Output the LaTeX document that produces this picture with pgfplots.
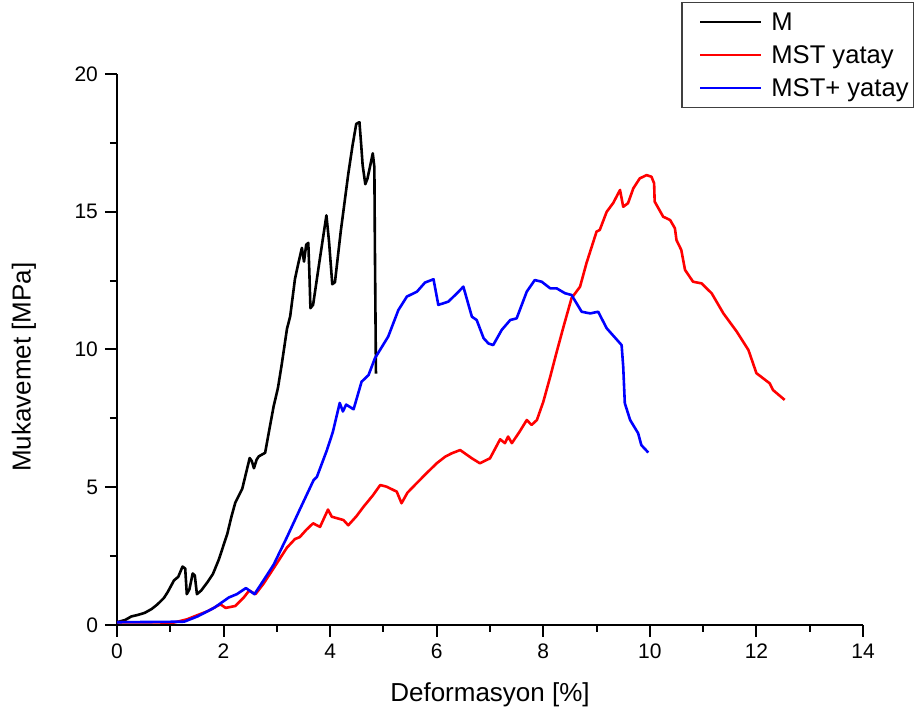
\documentclass[border=0pt]{standalone}
\usepackage{pgfplots}
\pgfplotsset{compat=1.18}
\usepackage{fontspec}
\setmainfont{Liberation Sans}
\definecolor{cred}{RGB}{255,0,0}
\definecolor{cblue}{RGB}{0,0,255}
\begin{document}
\begin{tikzpicture}
\useasboundingbox (-58.5pt,-45pt) rectangle (401.5pt,312.5pt);
\begin{axis}[
  at={(0,0)}, anchor=south west,
  scale only axis, width=373pt, height=275.5pt,
  xmin=0, xmax=14, ymin=0, ymax=20,
  axis lines*=left,
  axis line style={line width=1pt},
  xtick={0,2,...,14}, ytick={0,5,...,20},
  minor x tick num=1, minor y tick num=1,
  tick align=outside,
  major tick length=6pt, minor tick length=3.5pt,
  tick style={black, line width=1pt},
  /pgf/number format/assume math mode=true,
  ticklabel style={font=\fontsize{10.5pt}{12pt}\selectfont},
  xlabel={Deformasyon [\%]},
  ylabel={Mukavemet [MPa]},
  label style={font=\fontsize{13pt}{15pt}\selectfont},
  xlabel style={at={(axis description cs:0.5,-0.127)}, anchor=center},
  ylabel style={at={(axis description cs:-0.1247,0.468)}, anchor=center},
  legend style={at={(0.7565,1.1307)}, anchor=north west, draw=black!75, line width=0.6pt,
    inner xsep=2.5pt, inner ysep=3pt, row sep=3pt, column sep=4.5pt,
    font=\fontsize{12.8pt}{15pt}\selectfont,
    nodes={inner sep=0pt, text height=11pt, text depth=2.5pt}},
  legend cell align=left,
  legend image code/.code={\path (0pt,0pt); \draw[#1, line width=1.1pt] (6pt,0pt) -- (36.5pt,0pt);},
  every axis plot/.append style={line width=1.3pt, line join=round},
  clip=false,
]
\addplot[black] coordinates {
(0.00,0.10) (0.15,0.18) (0.27,0.31) (0.40,0.37) (0.52,0.44) (0.65,0.58) (0.76,0.75)
(0.88,0.98) (0.95,1.19) (1.07,1.62) (1.15,1.75) (1.23,2.12) (1.28,2.05) (1.31,1.12)
(1.36,1.30) (1.42,1.87) (1.46,1.80) (1.50,1.12) (1.58,1.25) (1.70,1.56) (1.80,1.85)
(1.91,2.37) (2.07,3.31) (2.15,3.95) (2.22,4.44) (2.35,4.94) (2.49,6.06) (2.53,5.95)
(2.57,5.69) (2.62,6.00) (2.66,6.12) (2.78,6.25) (2.85,7.00) (2.94,7.94) (3.02,8.60)
(3.09,9.44) (3.19,10.75) (3.25,11.20) (3.34,12.56) (3.40,13.10) (3.47,13.69) (3.51,13.19)
(3.55,13.80) (3.59,13.87) (3.61,12.80) (3.63,11.50) (3.68,11.62) (3.80,13.20) (3.93,14.87)
(3.98,13.90) (4.04,12.37) (4.09,12.44) (4.20,14.30) (4.34,16.37) (4.42,17.40) (4.49,18.19)
(4.55,18.25) (4.58,17.50) (4.61,16.69) (4.66,16.00) (4.70,16.20) (4.74,16.56) (4.80,17.12)
(4.83,16.62) (4.84,13.69) (4.86,9.12)
};
\addlegendentry{M}
\addplot[cred] coordinates {
(0.00,0.10) (1.07,0.09) (1.32,0.21) (1.50,0.35) (1.70,0.50) (1.94,0.75) (2.04,0.62)
(2.22,0.69) (2.38,1.00) (2.48,1.25) (2.60,1.12) (2.75,1.50) (2.94,2.06) (3.19,2.81)
(3.34,3.12) (3.43,3.19) (3.55,3.45) (3.68,3.69) (3.81,3.56) (3.96,4.19) (4.03,3.93)
(4.25,3.81) (4.34,3.62) (4.49,3.94) (4.63,4.30) (4.80,4.70) (4.94,5.08) (5.06,5.02)
(5.25,4.84) (5.34,4.42) (5.45,4.80) (5.59,5.08) (5.81,5.51) (6.00,5.87) (6.16,6.11)
(6.28,6.23) (6.44,6.35) (6.55,6.20) (6.66,6.05) (6.81,5.87) (7.00,6.05) (7.19,6.74)
(7.28,6.60) (7.34,6.84) (7.41,6.60) (7.55,7.00) (7.69,7.44) (7.78,7.26) (7.88,7.44)
(8.00,8.10) (8.13,9.01) (8.25,9.90) (8.38,10.83) (8.53,11.86) (8.69,12.28) (8.81,13.13)
(9.00,14.28) (9.06,14.34) (9.19,15.00) (9.31,15.31) (9.44,15.79) (9.50,15.18) (9.59,15.31)
(9.69,15.85) (9.81,16.21) (9.94,16.33) (10.03,16.27) (10.08,16.03) (10.09,15.37) (10.25,14.82)
(10.38,14.70) (10.47,14.40) (10.50,13.97) (10.59,13.61) (10.66,12.89) (10.81,12.46) (10.97,12.40)
(11.16,12.04) (11.38,11.31) (11.63,10.65) (11.85,9.98) (12.00,9.14) (12.25,8.77) (12.31,8.53)
(12.53,8.17)
};
\addlegendentry{MST yatay}
\addplot[cblue] coordinates {
(0.00,0.10) (1.26,0.12) (1.51,0.31) (1.82,0.62) (2.10,1.00) (2.25,1.12) (2.42,1.34)
(2.58,1.12) (2.75,1.62) (2.94,2.19) (3.19,3.19) (3.43,4.19) (3.69,5.26) (3.75,5.37)
(3.94,6.35) (4.05,7.00) (4.18,8.06) (4.24,7.75) (4.30,8.00) (4.44,7.83) (4.59,8.83)
(4.72,9.07) (4.84,9.68) (5.09,10.47) (5.28,11.43) (5.44,11.92) (5.63,12.10) (5.78,12.43)
(5.94,12.55) (6.03,11.62) (6.13,11.68) (6.22,11.74) (6.38,12.04) (6.50,12.28) (6.66,11.19)
(6.75,11.07) (6.88,10.41) (6.97,10.22) (7.06,10.16) (7.22,10.71) (7.38,11.07) (7.50,11.13)
(7.69,12.10) (7.84,12.52) (7.97,12.46) (8.13,12.22) (8.25,12.22) (8.41,12.04) (8.53,11.98)
(8.72,11.37) (8.88,11.31) (9.03,11.37) (9.19,10.77) (9.47,10.16) (9.50,9.38) (9.53,8.05)
(9.63,7.44) (9.78,6.96) (9.84,6.53) (9.97,6.26)
};
\addlegendentry{MST+ yatay}
\end{axis}
\end{tikzpicture}
\end{document}
